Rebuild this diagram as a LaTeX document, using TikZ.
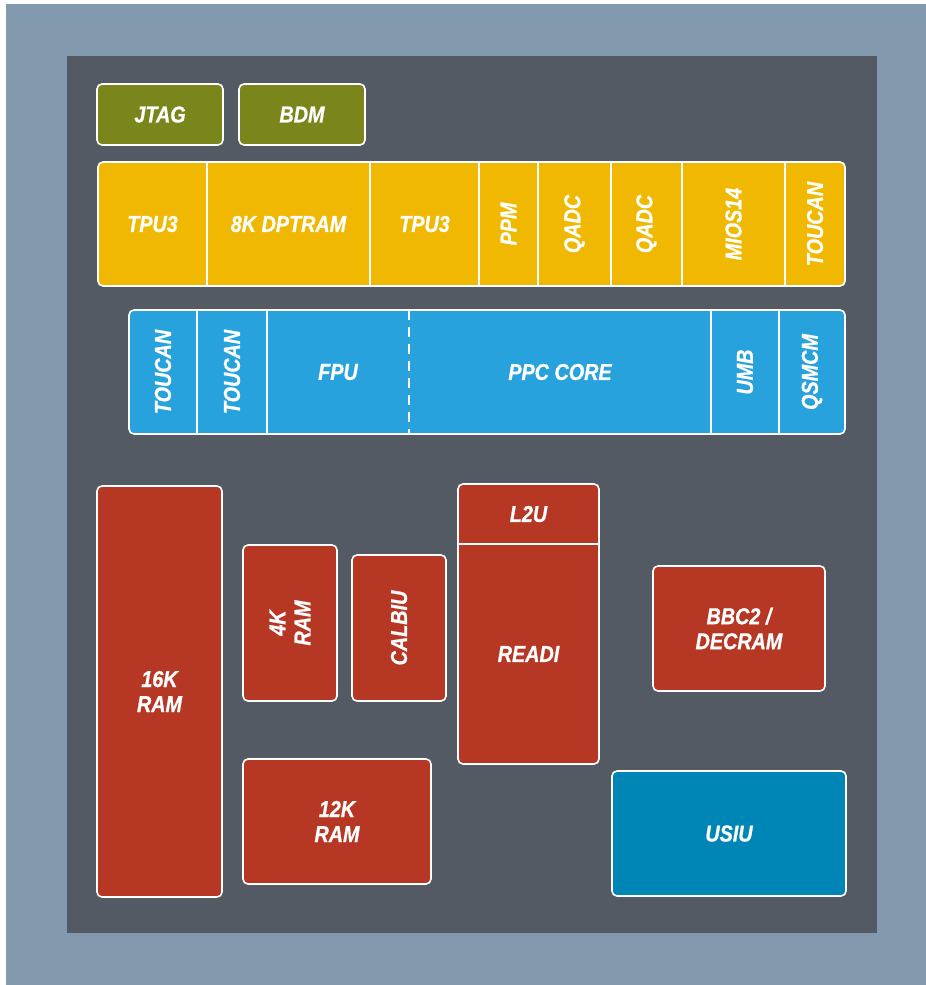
\documentclass[tikz,border=0pt]{standalone}
\usepackage{fontspec}
\newfontfamily\blockfont{Liberation Sans}[FakeStretch=0.86, FakeBold=0.8]
\usepackage{xcolor}
\definecolor{frameblue}{HTML}{8399AE}
\definecolor{dieslate}{HTML}{535A63}
\definecolor{dbgolive}{HTML}{7A861B}
\definecolor{periyellow}{HTML}{F0B800}
\definecolor{coreblue}{HTML}{28A2DC}
\definecolor{memred}{HTML}{B53724}
\definecolor{busteal}{HTML}{0085B7}
\usepackage{tikz}

\begin{document}
\begin{tikzpicture}[x=1pt, y=-1pt,
  block/.style={draw=white, line width=1.6pt, rounded corners=5pt, inner sep=0pt, text=white, align=center, font=\blockfont\bfseries\itshape\fontsize{23}{25}\selectfont},
  cell/.style={inner sep=0pt, text=white, align=center, font=\blockfont\bfseries\itshape\fontsize{23}{25}\selectfont},
  vtext/.style={cell, rotate=90},
  divider/.style={draw=white, line width=2pt}]
  \useasboundingbox (0,0) rectangle (926,985);
  \fill[frameblue] (6,4) rectangle (926,985);
  \fill[dieslate] (67,56) rectangle (877,933);

  % debug blocks
  \node[block, fill=dbgolive, minimum width=126pt, minimum height=61pt] (jtag) at (160,114.5) {JTAG};
  \node[block, fill=dbgolive, minimum width=126pt, minimum height=61pt] (bdm) at (302,114.5) {BDM};

  % peripheral bar
  \node[block, fill=periyellow, minimum width=747pt, minimum height=124pt] (pbar) at (471.5,224) {};
  \node[cell, minimum width=109pt, minimum height=124pt] (tpuA) at (152.5,224) {TPU3};
  \node[cell, minimum width=163pt, minimum height=124pt] (dptram) at (288.5,224) {8K DPTRAM};
  \node[cell, minimum width=109pt, minimum height=124pt] (tpuB) at (424.5,224) {TPU3};
  \node[cell, minimum width=59pt, minimum height=124pt] (ppm) at (508.5,224) {};
  \node[cell, minimum width=73pt, minimum height=124pt] (qadcA) at (574.5,224) {};
  \node[cell, minimum width=71pt, minimum height=124pt] (qadcB) at (646.5,224) {};
  \node[cell, minimum width=103pt, minimum height=124pt] (mios) at (733.5,224) {};
  \node[cell, minimum width=60pt, minimum height=124pt] (toucanA) at (815,224) {};
  \node[vtext] (ppm-t) at (ppm) {PPM};
  \node[vtext] (qadcA-t) at (qadcA) {QADC};
  \node[vtext] (qadcB-t) at (qadcB) {QADC};
  \node[vtext] (mios-t) at (mios) {MIOS14};
  \node[vtext] (toucanA-t) at (toucanA) {TOUCAN};
  \foreach \c in {tpuA,dptram,tpuB,ppm,qadcA,qadcB,mios}
    \draw[divider] (\c.north east) -- (\c.south east);

  % core bar
  \node[block, fill=coreblue, minimum width=716pt, minimum height=124pt] (cbar) at (487,372) {};
  \node[cell, minimum width=68pt, minimum height=124pt] (toucanB) at (163,372) {};
  \node[cell, minimum width=70pt, minimum height=124pt] (toucanC) at (232,372) {};
  \node[cell, minimum width=142pt, minimum height=124pt] (fpu) at (338,372) {FPU};
  \node[cell, minimum width=302pt, minimum height=124pt] (ppc) at (560,372) {PPC CORE};
  \node[cell, minimum width=68pt, minimum height=124pt] (umb) at (745,372) {};
  \node[cell, minimum width=66pt, minimum height=124pt] (qsmcm) at (812,372) {};
  \node[vtext] (toucanB-t) at (toucanB) {TOUCAN};
  \node[vtext] (toucanC-t) at (toucanC) {TOUCAN};
  \node[vtext] (umb-t) at (umb) {UMB};
  \node[vtext] (qsmcm-t) at (qsmcm) {QSMCM};
  \foreach \c in {toucanB,toucanC,ppc,umb}
    \draw[divider] (\c.north east) -- (\c.south east);
  \draw[divider, dash pattern=on 10pt off 7pt] (fpu.north east) -- (fpu.south east);

  % memories and bus
  \node[block, fill=memred, minimum width=125pt, minimum height=411pt] (ram16) at (159.5,691.5) {16K\\RAM};
  \node[block, fill=memred, minimum width=94pt, minimum height=156pt] (ram4) at (290,623) {};
  \node[vtext] (ram4-t) at (ram4) {4K\\RAM};
  \node[block, fill=memred, minimum width=94pt, minimum height=146pt] (calbiu) at (399,628) {};
  \node[vtext] (calbiu-t) at (calbiu) {CALBIU};
  \node[block, fill=memred, minimum width=188pt, minimum height=125pt] (ram12) at (337,821.5) {12K\\RAM};
  \node[block, fill=memred, minimum width=141pt, minimum height=280pt] (readiblk) at (528.5,624) {};
  \node[cell, minimum width=141pt, minimum height=60pt] (ltwou) at (528.5,514) {L2U};
  \node[cell, minimum width=141pt, minimum height=220pt] (readi) at (528.5,654) {READI};
  \draw[divider] (ltwou.south west) -- (ltwou.south east);
  \node[block, fill=memred, minimum width=172pt, minimum height=125pt] (bbc) at (739,628.5) {BBC2 /\\DECRAM};
  \node[block, fill=busteal, minimum width=234pt, minimum height=125pt] (usiu) at (729,833.5) {USIU};
\end{tikzpicture}
\end{document}
